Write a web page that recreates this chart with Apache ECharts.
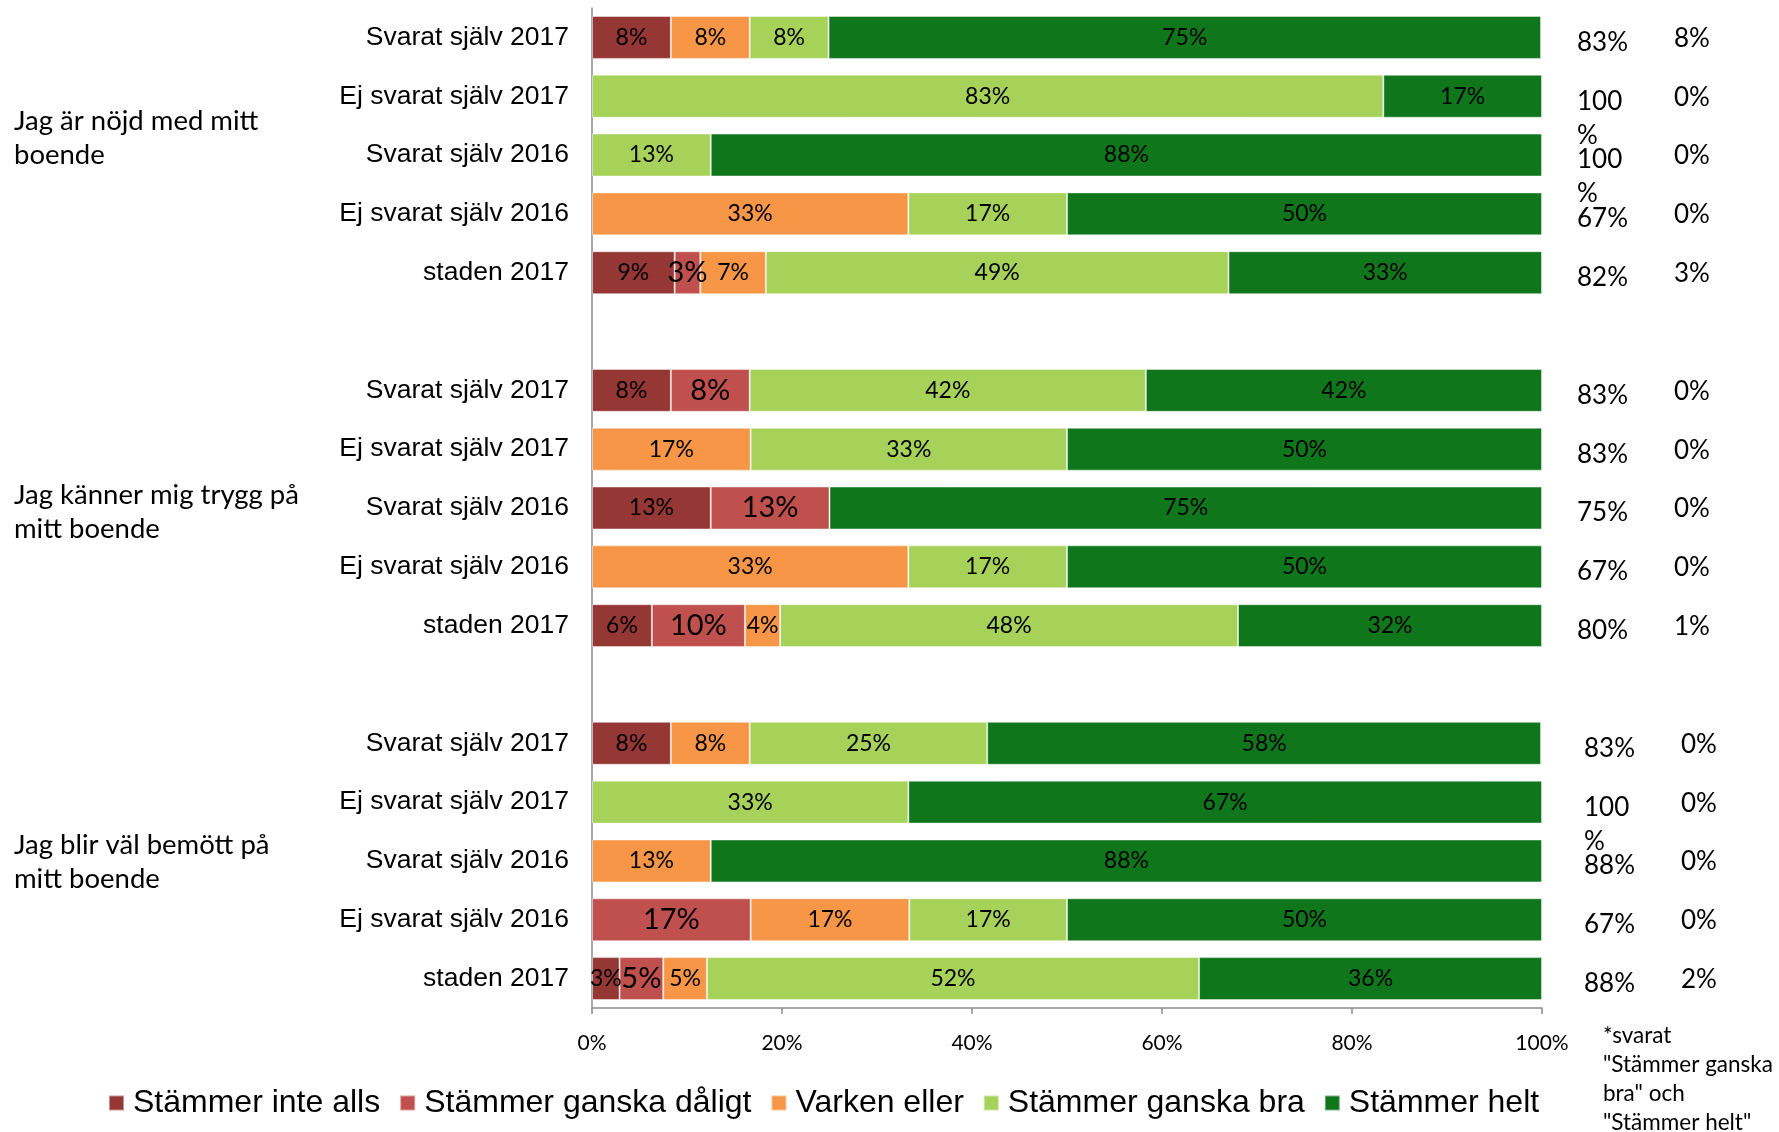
<!DOCTYPE html>
<html><head><meta charset="utf-8">
<script src="https://cdn.jsdelivr.net/npm/echarts@6/dist/echarts.min.js"></script>
<style>html,body{margin:0;padding:0;background:#fff}#c{width:1779px;height:1132px}</style>
</head><body><div id="c"></div><script>
// ---- data ----
const rowLabels = [
  'Svarat själv 2017','Ej svarat själv 2017','Svarat själv 2016','Ej svarat själv 2016','staden 2017','',
  'Svarat själv 2017','Ej svarat själv 2017','Svarat själv 2016','Ej svarat själv 2016','staden 2017','',
  'Svarat själv 2017','Ej svarat själv 2017','Svarat själv 2016','Ej svarat själv 2016','staden 2017'
];
const groupLabels = ['Jag är nöjd med mitt\nboende','Jag känner mig trygg på\nmitt boende','Jag blir väl bemött på\nmitt boende'];
const groupMiddleRow = [2, 8, 14];
const seriesNames = ['Stämmer inte alls','Stämmer ganska dåligt','Varken eller','Stämmer ganska bra','Stämmer helt'];
const inteAlls     = [8.3,null,null,null,8.7, null, 8.3,null,12.5,null,6.3, null, 8.3,null,null,null,2.9];
const ganskaDaligt = [null,null,null,null,2.7, null, 8.3,null,12.5,null,9.8, null, null,null,null,16.7,4.6];
const varken       = [8.3,null,null,33.3,6.9, null, null,16.7,null,33.3,3.7, null, 8.3,null,12.5,16.7,4.6];
const ganskaBra    = [8.3,83.3,12.5,16.7,48.7, null, 41.7,33.3,null,16.7,48.2, null, 25,33.3,null,16.6,51.8];
const helt         = [75,16.7,87.5,50,33.0, null, 41.7,50,75,50,32.0, null, 58.3,66.7,87.5,50,36.1];
const positiveShare = ['83%','100%','100%','67%','82%','', '83%','83%','75%','67%','80%','', '83%','100%','88%','67%','88%'];
const otherShare    = ['8%','0%','0%','0%','3%','', '0%','0%','0%','0%','1%','', '0%','0%','0%','0%','2%'];
const xTickValues = [0,20,40,60,80,100];
const footnote = '*svarat\n"Stämmer ganska\nbra" och\n"Stämmer helt"';

// ---- styles ----
const colors = ['#953735','#C0504D','#F79646','#A6D25A','#10761C'];
const seriesData = [inteAlls, ganskaDaligt, varken, ganskaBra, helt];
const labelSizes = [23, 29, 23, 23, 23];

const chart = echarts.init(document.getElementById('c'), null, {renderer:'canvas'});
const fmt = p => (p.value ? Math.round(p.value) + '%' : '');

chart.setOption({
  animation: false,
  backgroundColor: '#fff',
  grid: {left: 592, right: 237, top: 8, bottom: 124, containLabel: false},
  xAxis: {
    type: 'value', min: xTickValues[0], max: xTickValues[xTickValues.length-1], interval: 20,
    splitLine: {show: false},
    axisLine: {show: true, lineStyle: {color: '#8c8c8c', width: 1.5}},
    axisTick: {show: true, length: 6, lineStyle: {color: '#8c8c8c', width: 1.5}},
    axisLabel: {color: '#000', fontFamily: 'Lato', fontSize: 21, margin: 25, formatter: v => v + '%'}
  },
  yAxis: {
    type: 'category', inverse: true, data: rowLabels,
    axisLine: {show: true, lineStyle: {color: '#8c8c8c', width: 1.5}},
    axisTick: {show: false},
    axisLabel: {color: '#000', fontFamily: 'Liberation Sans', fontSize: 26.5, margin: 23, interval: 0}
  },
  legend: {
    left: 108, top: 1087, padding: 0, itemWidth: 15, itemHeight: 15, itemGap: 19, icon: 'rect',
    textStyle: {color: '#000', fontFamily: 'Liberation Sans', fontSize: 32, padding: [0,0,0,4]},
    data: seriesNames
  },
  series: seriesNames.map((name, i) => ({
    name, type: 'bar', stack: 'all', data: seriesData[i],
    barCategoryGap: '27%',
    itemStyle: {color: colors[i], borderColor: 'rgba(255,255,255,0.45)', borderWidth: 1},
    label: {show: true, position: 'inside', color: '#000', fontFamily: 'Lato', fontSize: labelSizes[i], formatter: fmt},
    emphasis: {disabled: true}
  }))
});

// ---- annotations placed through the category axis ----
const graphics = [];
const groupDy = [-17, 4, 1];
groupLabels.forEach((t, g) => {
  const cy = chart.convertToPixel({yAxisIndex: 0}, groupMiddleRow[g]);
  graphics.push({type: 'text', style: {text: t, x: 14, y: cy + groupDy[g], fill: '#000', fontFamily: 'Lato', fontSize: 27.5, lineHeight: 34, verticalAlign: 'middle', align: 'left'}});
});
const colX1 = [1577, 1577, 1584];
const colX2 = [1674, 1674, 1681];
positiveShare.forEach((v, i) => {
  if (!v) return;
  const g = Math.floor(i / 6);
  const cy = chart.convertToPixel({yAxisIndex: 0}, i);
  graphics.push({type: 'text', style: {text: v, x: colX1[g], y: cy + 5 - 17, fill: '#000', fontFamily: 'Lato', fontSize: 26, lineHeight: 34, verticalAlign: 'top', align: 'left', width: 58, overflow: 'breakAll'}});
  graphics.push({type: 'text', style: {text: otherShare[i], x: colX2[g], y: cy + 1 - 17, fill: '#000', fontFamily: 'Lato', fontSize: 26, lineHeight: 34, verticalAlign: 'top', align: 'left'}});
});
graphics.push({type: 'text', style: {text: footnote, x: 1603, y: 1021, fill: '#000', fontFamily: 'Lato', fontSize: 22.5, lineHeight: 29, verticalAlign: 'top', align: 'left'}});
chart.setOption({graphic: graphics});
</script></body></html>
